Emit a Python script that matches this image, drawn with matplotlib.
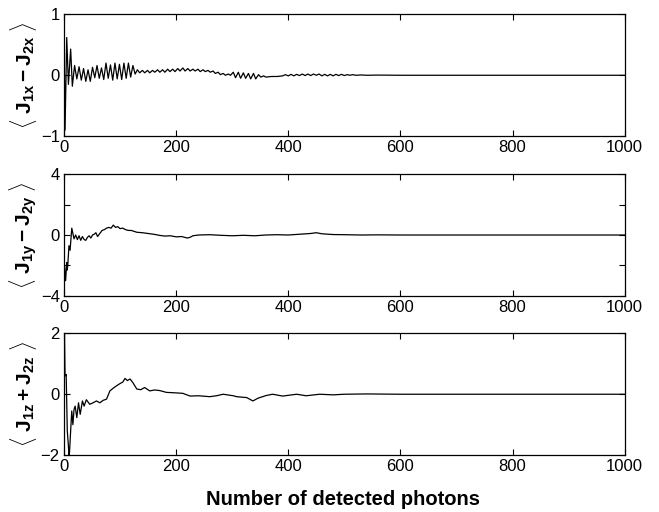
import matplotlib

matplotlib.use("Agg")
import matplotlib.pyplot as plt

plt.rcParams["font.family"] = ["Liberation Sans", "DejaVu Sans"]
plt.rcParams["mathtext.fontset"] = "custom"
plt.rcParams["mathtext.rm"] = "Liberation Sans"
plt.rcParams["mathtext.sf"] = "Liberation Sans:weight=bold"
plt.rcParams["mathtext.bf"] = "Liberation Sans:weight=bold"
plt.rcParams["mathtext.it"] = "Liberation Sans:italic"

# <J1x - J2x>
x_jx = [1, 2, 5, 8, 12, 15, 19, 23, 27, 31, 35, 39, 43, 47, 51, 55, 59, 63, 67, 71,
        75, 79, 83, 87, 91, 95, 99, 103, 107, 111, 115, 119, 123, 127,
        131, 135, 140, 144, 149, 153, 158, 162, 167, 171, 176, 180, 185, 189, 194, 198,
        203, 207, 212, 216, 221, 225, 230, 234, 239, 243, 248, 252, 257, 261, 266, 270,
        275, 279, 284, 288, 293, 297,
        302, 306, 311, 315, 320, 324, 329, 333, 338, 342, 347, 351, 356, 360, 370, 380, 390,
        395, 400, 405, 410, 415, 420, 425, 430, 435, 440, 445, 450, 455, 460, 465, 470,
        475, 480, 485, 490, 495, 500, 505, 510, 515, 520, 530, 540, 560, 600, 1000]
y_jx = [0.0, -0.9, 0.62, -0.15, 0.43, -0.18, 0.16, -0.06, 0.14, -0.08, 0.11, -0.1, 0.09, -0.1,
        0.13, -0.04, 0.16, -0.05, 0.12, -0.07, 0.2, -0.05, 0.17, -0.08, 0.2, -0.06, 0.18, -0.07,
        0.2, -0.05, 0.2, -0.03, 0.16, 0.02,
        0.09, 0.04, 0.08, 0.04, 0.08, 0.04, 0.08, 0.05, 0.09, 0.05, 0.09, 0.05, 0.1, 0.06, 0.1, 0.06,
        0.11, 0.07, 0.12, 0.07, 0.11, 0.07, 0.1, 0.07, 0.1, 0.06, 0.09, 0.06, 0.08, 0.05, 0.07, 0.03,
        0.05, 0.01, 0.03, 0.0, 0.02, 0.0,
        0.05, -0.04, 0.05, -0.05, 0.04, -0.05, 0.03, -0.06, 0.03, -0.06, 0.01, -0.03, -0.01, -0.03,
        -0.02, -0.02, -0.01,
        0.01, -0.01, 0.015, -0.01, 0.015, -0.005, 0.02, -0.005, 0.02, -0.005, 0.02, 0.0, 0.02, -0.01,
        0.015, -0.01, 0.015, -0.01, 0.015, -0.005, 0.015, -0.005, 0.01, 0.0, 0.01, 0.0, 0.005, 0.0,
        0.003, 0.0, 0.0]

# <J1y - J2y>
x_jy = [1, 3, 5, 6, 7, 9, 11, 14, 16, 18, 21, 24, 27, 30, 33, 36, 39, 42, 45, 48, 51, 54, 57,
        60, 64, 68, 72, 76, 80, 84, 88, 92, 96, 100, 105, 110, 115, 120, 130, 140, 150, 160,
        170, 180, 190, 200, 210, 220, 225, 230, 240, 260, 280, 300, 320, 340, 360, 380, 400,
        420, 440, 450, 460, 480, 500, 530, 560, 600, 1000]
y_jy = [-2.0, -3.0, -1.8, -2.3, -1.9, -0.7, -1.0, 0.45, 0.1, -0.25, 0.0, -0.3, -0.05, -0.35,
        -0.1, -0.3, -0.35, -0.15, -0.05, -0.2, 0.0, 0.05, 0.15, -0.1, 0.1, 0.3, 0.35, 0.45, 0.5,
        0.45, 0.65, 0.5, 0.55, 0.42, 0.45, 0.35, 0.3, 0.3, 0.18, 0.15, 0.1, 0.05, -0.02, -0.07,
        -0.05, -0.12, -0.1, -0.2, -0.15, -0.05, 0.0, 0.02, -0.02, -0.05, -0.02, -0.05, 0.0, 0.02,
        0.0, 0.05, 0.1, 0.15, 0.08, 0.03, 0.02, 0.0, 0.01, 0.0, 0.0]

# <J1z + J2z>
x_jz = [1, 2, 4, 6, 8, 9, 10, 12, 14, 16, 18, 20, 23, 26, 29, 33, 36, 40, 46, 52, 58, 64,
        70, 76, 82, 88, 94, 100, 105, 109, 113, 118, 123, 130, 137, 144, 153, 162, 171, 183,
        195, 212, 225, 240, 260, 272, 284, 302, 308, 326, 337, 346, 361, 372, 390, 415, 432,
        456, 480, 500, 540, 600, 1000]
y_jz = [2.0, 0.6, 0.65, -1.2, -1.7, -2.0, -1.9, -1.2, -0.55, -1.0, -0.5, -0.39, -0.77, -0.28,
        -0.66, -0.22, -0.39, -0.18, -0.33, -0.28, -0.22, -0.28, -0.2, -0.16, 0.11, 0.2, 0.28,
        0.35, 0.4, 0.52, 0.45, 0.5, 0.38, 0.17, 0.15, 0.22, 0.11, 0.14, 0.12, 0.06, 0.05, 0.03,
        -0.06, -0.05, -0.08, -0.05, 0.0, -0.05, -0.08, -0.11, -0.22, -0.13, -0.04, 0.0, -0.06,
        0.0, -0.05, 0.0, -0.02, 0.0, 0.01, 0.0, 0.0]

x_ticks = [0, 200, 400, 600, 800, 1000]

panels = [
    (x_jx, y_jx, [-1, 0, 1], ["\u22121", "0", "1"],
     r"$\langle\ \mathsf{J_{1x}-J_{2x}}\ \rangle$"),
    (x_jy, y_jy, [-4, -2, 0, 2, 4], ["\u22124", "", "0", "", "4"],
     r"$\langle\ \mathsf{J_{1y}-J_{2y}}\ \rangle$"),
    (x_jz, y_jz, [-2, 0, 2], ["\u22122", "0", "2"],
     r"$\langle\ \mathsf{J_{1z}+J_{2z}}\ \rangle$"),
]
bottoms = [0.734, 0.422, 0.111]

fig = plt.figure(figsize=(6.59, 5.12), dpi=100)
for (xs, ys, yt, ytl, label), bottom in zip(panels, bottoms):
    ax = fig.add_axes([0.097, bottom, 0.851, 0.238])
    ax.plot(xs, ys, color="black", linewidth=0.9)
    ax.set_xlim(0, 1000)
    ax.set_ylim(yt[0], yt[-1])
    ax.set_xticks(x_ticks)
    ax.set_yticks(yt)
    ax.set_yticklabels(ytl)
    ax.tick_params(direction="in", length=4, top=True, right=True, labelsize=12, pad=3)
    ax.set_ylabel(label, fontsize=15, labelpad=1)
    for spine in ax.spines.values():
        spine.set_linewidth(0.9)

fig.text(0.52, 0.006, "Number of detected photons", ha="center", va="bottom",
         fontsize=14.5, fontweight="bold")
fig.savefig("out.png", dpi=100)
